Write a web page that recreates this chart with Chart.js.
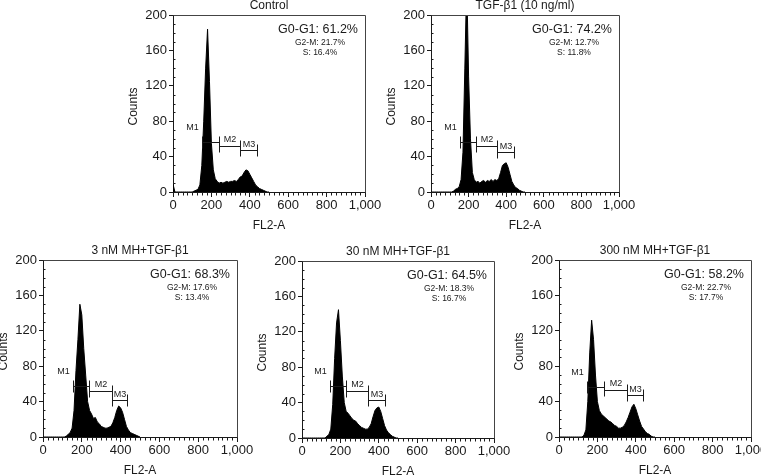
<!DOCTYPE html>
<html>
<head>
<meta charset="utf-8">
<script src="https://cdn.jsdelivr.net/npm/chart.js@4/dist/chart.umd.min.js"></script>
<style>
  body { margin: 0; background: #fff; width: 761px; height: 475px; position: relative; overflow: hidden; }
  canvas { position: absolute; }
</style>
</head>
<body>
<script>
// FL2-A channel (x) shared by all histograms
const fl2 = [0, 10, 20, 30, 40, 50, 60, 70, 80, 90, 100,
  110, 120, 130, 140, 150, 160, 170, 180, 190, 200,
  210, 220, 230, 240, 250, 260, 270, 280, 290, 300,
  310, 320, 330, 340, 350, 360, 370, 380, 390, 400,
  410, 420, 430, 440, 450, 460, 470, 480, 490, 500];

// counts per channel
const countsControl = [9, 0, 0, 0, 0, 0, 0, 0, 0, 0, 0,
  1, 2, 3, 8, 30, 80, 140, 184, 125, 55,
  25, 15, 12, 10, 11, 10, 11, 12, 11, 12,
  12, 13, 12, 14, 17, 18, 22, 25, 24, 20,
  16, 12, 8, 6, 4, 3, 2, 1, 0, 0];
const countsTgf = [0, 0, 0, 0, 0, 0, 0, 0, 0, 0, 0,
  0, 1, 3, 4, 6, 14, 45, 140, 240, 130,
  60, 22, 14, 11, 12, 10, 12, 13, 11, 13,
  12, 14, 12, 14, 13, 15, 22, 30, 32, 33,
  28, 20, 12, 8, 5, 4, 2, 1, 0, 0];
const counts3nM = [0, 0, 0, 0, 0, 0, 0, 0, 0, 0, 0,
  0, 1, 3, 5, 10, 30, 75, 110, 150, 138,
  100, 70, 40, 30, 26, 21, 22, 17, 15, 12,
  11, 10, 10, 11, 12, 16, 22, 30, 35, 33,
  28, 20, 12, 8, 5, 4, 3, 2, 1, 0];
const counts30nM = [0, 0, 0, 0, 0, 0, 0, 0, 0, 0, 0,
  0, 0, 2, 4, 10, 38, 90, 130, 145, 110,
  70, 40, 30, 28, 25, 22, 20, 19, 16, 14,
  12, 11, 10, 10, 12, 16, 24, 31, 34, 35,
  30, 22, 14, 9, 6, 4, 2, 1, 0, 0];
const counts300nM = [0, 0, 0, 0, 0, 0, 0, 0, 0, 0, 0,
  0, 0, 2, 8, 40, 95, 132, 110, 70, 40,
  30, 26, 24, 22, 20, 18, 17, 15, 13, 12,
  10, 10, 11, 13, 17, 22, 28, 34, 37, 32,
  25, 18, 12, 9, 6, 4, 3, 1, 0, 0];

const titles = ["Control", "TGF-\u03b21 (10 ng/ml)", "3 nM MH+TGF-\u03b21", "30 nM MH+TGF-\u03b21", "300 nM MH+TGF-\u03b21"];
const g0g1 = ["61.2%", "74.2%", "68.3%", "64.5%", "58.2%"];
const g2m = ["21.7%", "12.7%", "17.6%", "18.3%", "22.7%"];
const sPhase = ["16.4%", "11.8%", "13.4%", "16.7%", "17.7%"];

// marker gates (FL2-A) and the count level each bar sits at
const gateM1 = [[149, 238], [152, 239], [155, 238], [147, 230], [146, 235]];
const gateM2End = [350, 353, 354, 345, 352];
const gateM3End = [437, 442, 434, 431, 439];
const levelM1 = [57, 57, 58, 59, 56];
const levelM2 = [52, 52, 52, 53, 53];
const levelM3 = [47, 45, 42, 43, 47];

const yTicks = [0, 40, 80, 120, 160, 200];
const xTicks = [0, 200, 400, 600, 800, 1000];

const allCounts = [countsControl, countsTgf, counts3nM, counts30nM, counts300nM];

// page boxes of each plot area: left, top, right, bottom
const plotBoxes = [[173, 15, 365, 192], [431, 15, 619, 192], [43, 260, 237, 437], [302, 261, 494, 438], [559, 260, 751, 437]];
const ML = 58, MT = 22, MR = 22, MB = 46;
const FONT = '"Liberation Sans", Arial, sans-serif';
const INK = '#1a1a1a';

const facsDecor = {
  id: 'facsDecor',
  afterDraw(chart, args, opts) {
    const i = opts.index;
    const { ctx, chartArea: a, scales: { x, y } } = chart;
    const px = v => Math.round(x.getPixelForValue(v)) + 0.5;
    const py = v => Math.round(y.getPixelForValue(v)) + 0.5;
    ctx.save();
    ctx.strokeStyle = INK;
    ctx.fillStyle = INK;
    ctx.lineWidth = 1;

    // frame top + right
    ctx.strokeStyle = '#444';
    ctx.beginPath();
    ctx.moveTo(px(0), py(200));
    ctx.lineTo(px(1000), py(200));
    ctx.lineTo(px(1000), py(0));
    ctx.stroke();
    ctx.strokeStyle = INK;

    // minor ticks
    ctx.beginPath();
    for (let v = 10; v < 200; v += 10) {
      if (v % 40 === 0) continue;
      ctx.moveTo(px(0), py(v));
      ctx.lineTo(px(0) + 2, py(v));
    }
    for (let v = 25; v < 1000; v += 25) {
      if (v % 200 === 0) continue;
      ctx.moveTo(px(v), py(0));
      ctx.lineTo(px(v), py(0) + 3);
    }
    ctx.stroke();

    // title + axis titles
    ctx.textAlign = 'center';
    ctx.textBaseline = 'middle';
    ctx.font = '12px ' + FONT;
    ctx.fillText(titles[i], (a.left + a.right) / 2, a.top - 9);
    ctx.fillText('FL2-A', (a.left + a.right) / 2, a.bottom + 34);
    ctx.save();
    ctx.translate(a.left - 39, (a.top + a.bottom) / 2 + 3);
    ctx.rotate(-Math.PI / 2);
    ctx.fillText('Counts', 0, 0);
    ctx.restore();

    // phase stats
    ctx.font = '12.5px ' + FONT;
    ctx.fillText('G0-G1: ' + g0g1[i], a.right - 47, a.top + 15);
    ctx.font = '8.5px ' + FONT;
    ctx.fillText('G2-M: ' + g2m[i], a.right - 45, a.top + 28);
    ctx.fillText('S: ' + sPhase[i], a.right - 45, a.top + 38);

    // gates
    const bar = (x0, x1, lvl) => {
      const yy = py(lvl);
      ctx.beginPath();
      ctx.moveTo(px(x0), yy); ctx.lineTo(px(x1), yy);
      ctx.moveTo(px(x0), yy - 6); ctx.lineTo(px(x0), yy + 6);
      ctx.moveTo(px(x1), yy - 6); ctx.lineTo(px(x1), yy + 6);
      ctx.stroke();
    };
    const [m1a, m1b] = gateM1[i];
    bar(m1a, m1b, levelM1[i]);
    bar(m1b, gateM2End[i], levelM2[i]);
    bar(gateM2End[i], gateM3End[i], levelM3[i]);
    ctx.font = '9px ' + FONT;
    ctx.fillText('M1', px(m1a) - 10, py(levelM1[i]) - 15);
    ctx.fillText('M2', (px(m1b) + px(gateM2End[i])) / 2, py(levelM2[i]) - 7);
    ctx.fillText('M3', (px(gateM2End[i]) + px(gateM3End[i])) / 2, py(levelM3[i]) - 6);
    ctx.restore();
  }
};

plotBoxes.forEach((b, i) => {
  const c = document.createElement('canvas');
  const w = b[2] - b[0], h = b[3] - b[1];
  c.width = ML + w + MR;
  c.height = MT + h + MB;
  c.style.left = (b[0] - ML) + 'px';
  c.style.top = (b[1] - MT) + 'px';
  c.style.width = c.width + 'px';
  c.style.height = c.height + 'px';
  document.body.appendChild(c);

  const counts = allCounts[i];
  new Chart(c, {
    type: 'line',
    data: {
      datasets: [{
        data: fl2.map((v, k) => ({ x: v, y: counts[k] })),
        fill: 'origin',
        backgroundColor: '#000',
        borderColor: '#000',
        borderWidth: 1,
        pointRadius: 0,
        tension: 0
      }]
    },
    options: {
      responsive: false,
      animation: false,
      devicePixelRatio: 1,
      layout: { padding: { left: 0, top: MT, right: MR, bottom: 0 } },
      plugins: {
        legend: { display: false },
        tooltip: { enabled: false },
        facsDecor: { index: i }
      },
      scales: {
        x: {
          type: 'linear',
          min: 0,
          max: 1000,
          afterFit: s => { s.height = MB; },
          afterBuildTicks: s => { s.ticks = xTicks.map(v => ({ value: v })); },
          ticks: {
            color: INK,
            font: { family: FONT, size: 13 },
            padding: 1,
            maxRotation: 0,
            callback: v => v.toLocaleString('en-US')
          },
          grid: { drawOnChartArea: false, tickLength: 5, tickColor: INK },
          border: { color: INK }
        },
        y: {
          min: 0,
          max: 200,
          afterFit: s => { s.width = ML; },
          afterBuildTicks: s => { s.ticks = yTicks.map(v => ({ value: v })); },
          ticks: {
            color: INK,
            font: { family: FONT, size: 13 },
            padding: 2
          },
          grid: { drawOnChartArea: false, tickLength: 4, tickColor: INK },
          border: { color: INK }
        }
      }
    },
    plugins: [facsDecor]
  });
});
</script>
</body>
</html>
